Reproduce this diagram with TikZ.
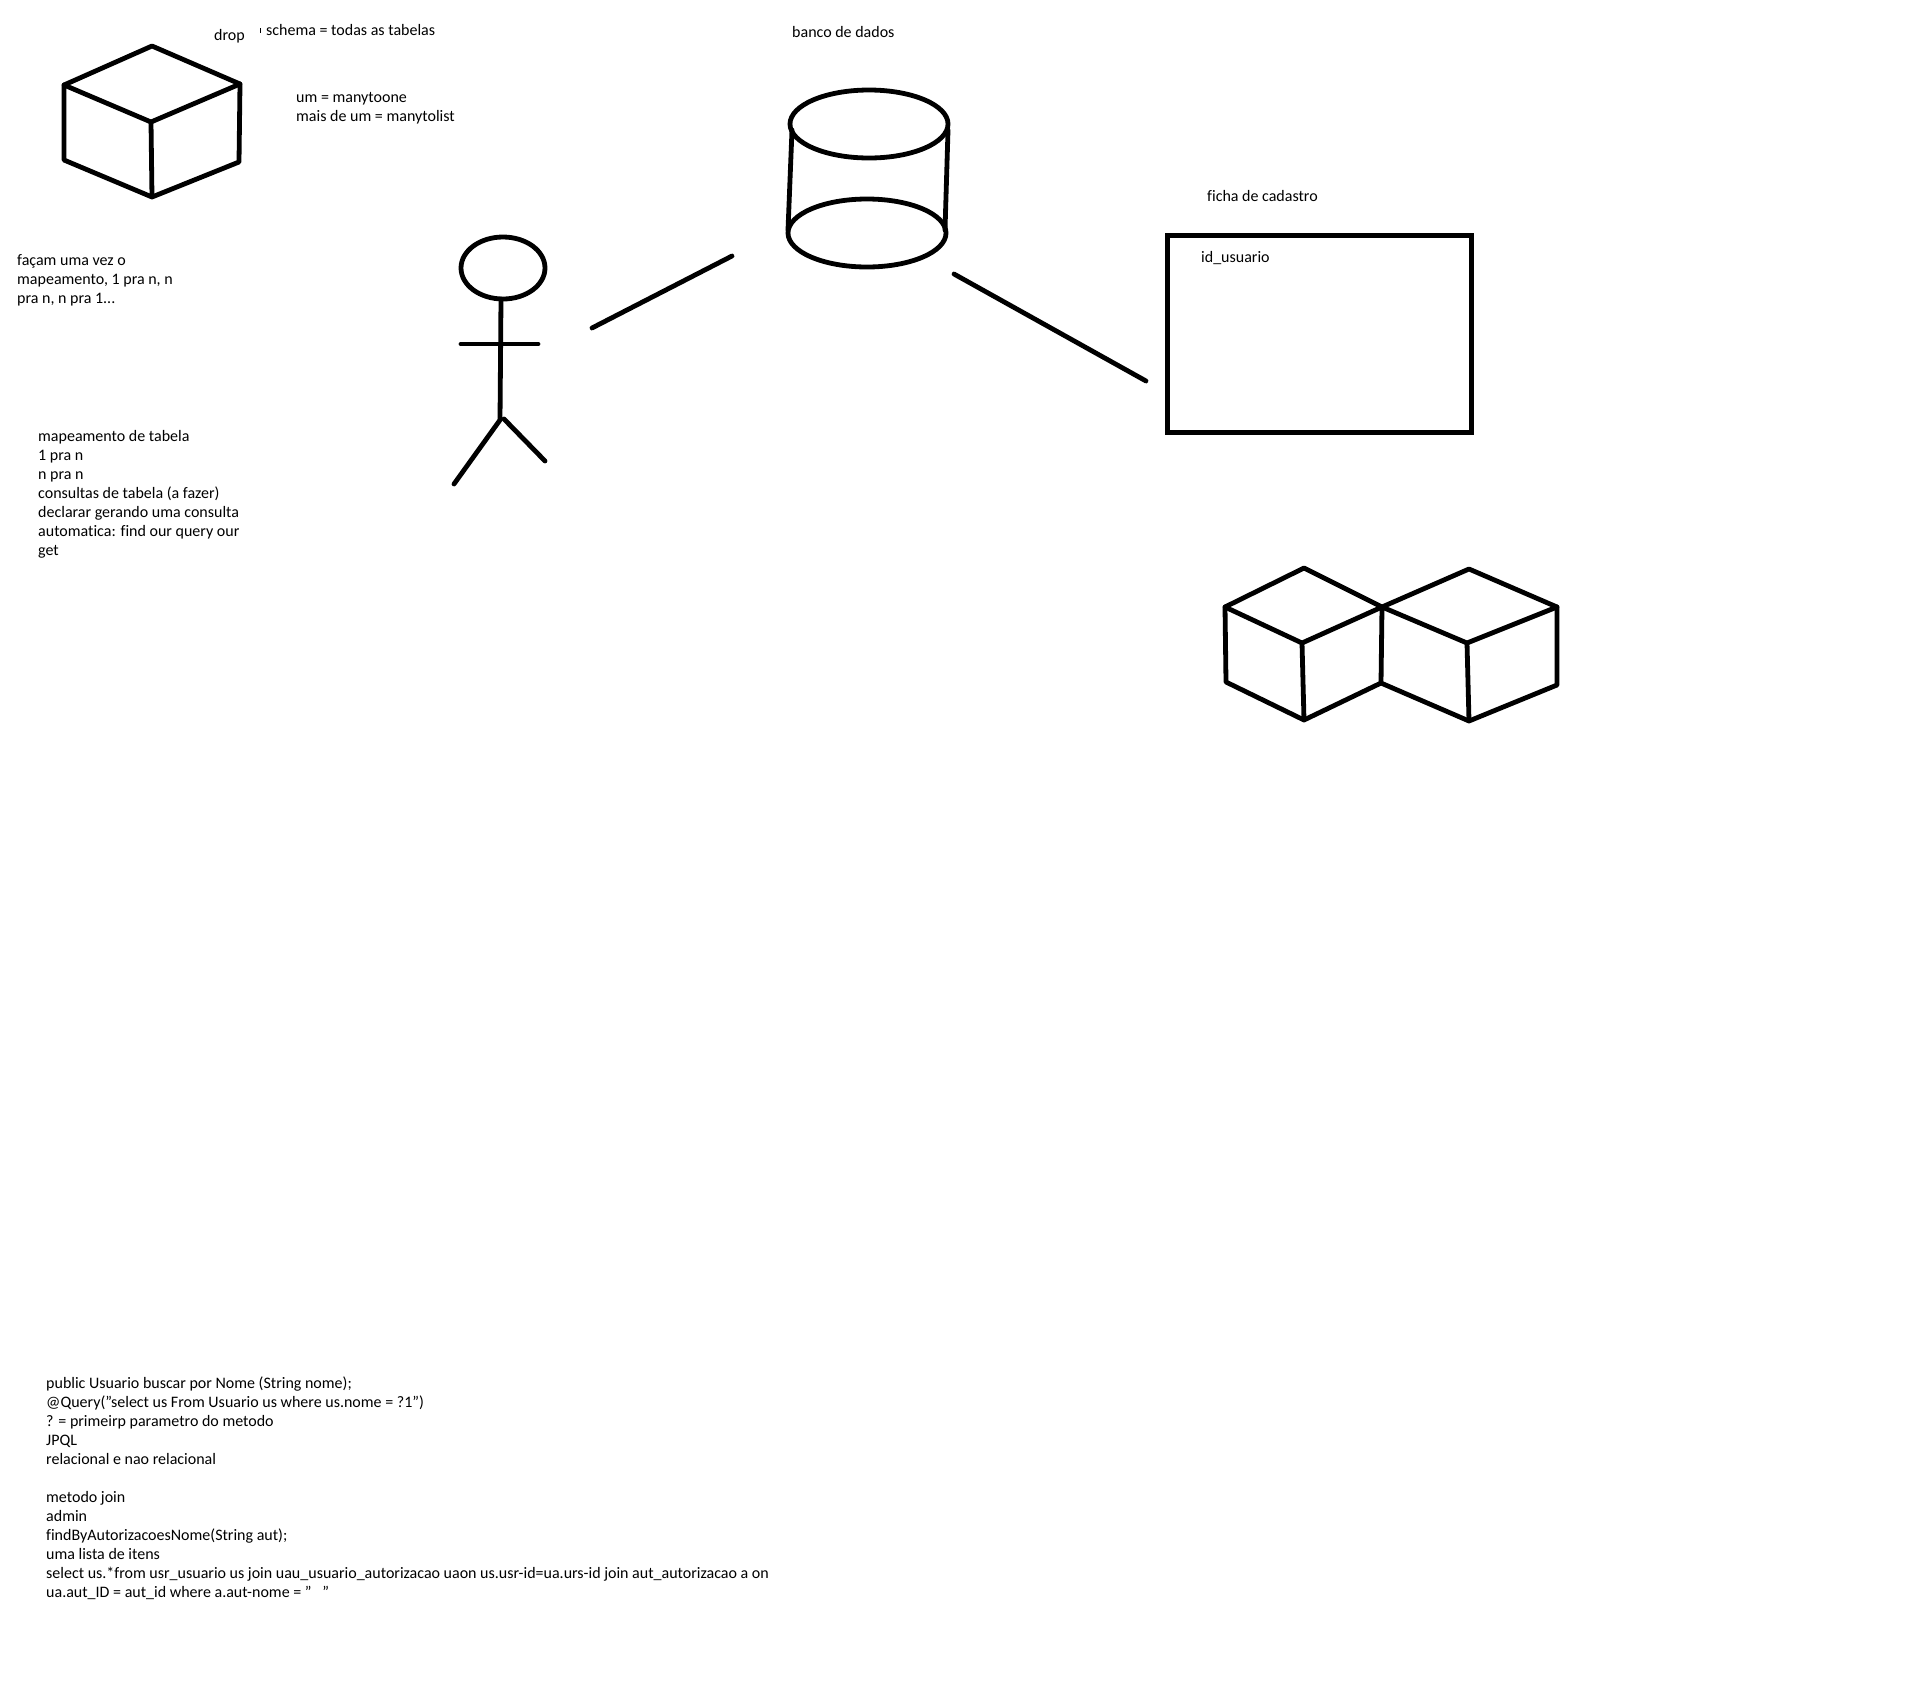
\documentclass[tikz,border=0pt]{standalone}
\usepackage{fontspec}
\setmainfont[Ligatures=NoCommon]{Carlito}
\tikzset{
	sketch/.style={line width=4.8pt, line cap=round, line join=round},
	note/.style={anchor=north west, inner sep=0pt, align=left, font=\fontsize{16}{19}\selectfont}
}

\begin{document}
\begin{tikzpicture}[x=1pt,y=-1pt]
	\useasboundingbox (0,0) rectangle (1914,1695);
	% cube, top left
	\coordinate (cubeAtop) at (152,46);
	\coordinate (cubeAleft) at (64,85);
	\coordinate (cubeAright) at (240,84);
	\coordinate (cubeAmid) at (151,122);
	\coordinate (cubeAlow) at (152,197);
	\coordinate (cubeAlowleft) at (64,160);
	\coordinate (cubeAlowright) at (239,162);
	\draw[sketch] (cubeAtop) -- (cubeAleft) -- (cubeAmid) -- (cubeAright) -- cycle;
	\draw[sketch] (cubeAleft) -- (cubeAlowleft) -- (cubeAlow) -- (cubeAlowright) -- (cubeAright);
	\draw[sketch] (cubeAmid) -- (cubeAlow);
	% stick figure
	\draw[sketch] (503,268) ellipse (42 and 31);
	\coordinate (neck) at (501,299);
	\coordinate (hip) at (500,420);
	\coordinate (handleft) at (461,344);
	\coordinate (handright) at (538,344);
	\coordinate (footleft) at (454,484);
	\coordinate (hipright) at (504,419);
	\coordinate (footright) at (545,461);
	\draw[sketch] (neck) -- (hip) -- (footleft);
	\draw[sketch] (hipright) -- (footright);
	\draw[sketch] (handleft) -- (handright);
	% database
	\draw[sketch] (869,124) ellipse (79 and 34);
	\draw[sketch] (867,233) ellipse (79 and 34);
	\coordinate (dbtopleft) at (792,130);
	\coordinate (dbtopright) at (948,130);
	\coordinate (dblowleft) at (788,230);
	\coordinate (dblowright) at (945,230);
	\draw[sketch] (dbtopleft) -- (dblowleft);
	\draw[sketch] (dbtopright) -- (dblowright);
	% the two loose lines
	\coordinate (linkAstart) at (592,328);
	\coordinate (linkAend) at (732,256);
	\coordinate (linkBstart) at (954,274);
	\coordinate (linkBend) at (1146,381);
	\draw[sketch] (linkAstart) -- (linkAend);
	\draw[sketch] (linkBstart) -- (linkBend);
	% form
	\draw[line width=5pt] (1167,235) rectangle (1471,432);
	% pair of cubes
	\coordinate (cubeBtop) at (1304,568);
	\coordinate (cubeBleft) at (1225,607);
	\coordinate (shared) at (1382,607);
	\coordinate (cubeBmid) at (1302,643);
	\coordinate (cubeBlow) at (1304,720);
	\coordinate (cubeBlowleft) at (1226,682);
	\coordinate (sharedlow) at (1381,683);
	\coordinate (cubeCtop) at (1469,569);
	\coordinate (cubeCright) at (1557,607);
	\coordinate (cubeCmid) at (1467,643);
	\coordinate (cubeClow) at (1469,721);
	\coordinate (cubeClowright) at (1557,685);
	\draw[sketch] (cubeBtop) -- (cubeBleft) -- (cubeBmid) -- (shared) -- cycle;
	\draw[sketch] (cubeBleft) -- (cubeBlowleft) -- (cubeBlow) -- (sharedlow) -- (shared);
	\draw[sketch] (cubeBmid) -- (cubeBlow);
	\draw[sketch] (cubeCtop) -- (shared) -- (cubeCmid) -- (cubeCright) -- cycle;
	\draw[sketch] (sharedlow) -- (cubeClow) -- (cubeClowright) -- (cubeCright);
	\draw[sketch] (cubeCmid) -- (cubeClow);
	% notes
	\node[note] (drop) at (214,29) {drop};
	\node[note] (schema) at (266,24) {schema = todas as tabelas};
	\draw[line width=0.8pt] (260,28) -- (260,33);
	\node[note] (many) at (296,92) {um = manytoone\\mais de um = manytolist};
	\node[note] (banco) at (792,26) {banco de dados};
	\node[note] (ficha) at (1207,190) {ficha de cadastro};
	\node[note] (idusuario) at (1201,251) {id\_usuario};
	\node[note] (facam) at (17,254) {façam uma vez o\\mapeamento, 1 pra n, n\\pra n, n pra 1...};
	\node[note] (mapa) at (38,430) {mapeamento de tabela\\1 pra n\\n pra n\\consultas de tabela (a fazer)\\declarar gerando uma consulta\\automatica: find our query our\\get};
	\node[note] (query) at (46,1377) {public Usuario buscar por Nome (String nome);\\@Query("select us From Usuario us where us.nome = ?1")\\? = primeirp parametro do metodo\\JPQL\\relacional e nao relacional\\[19pt]metodo join\\admin\\findByAutorizacoesNome(String aut);\\uma lista de itens\\select us.*from usr\_usuario us join uau\_usuario\_autorizacao uaon us.usr-id=ua.urs-id join aut\_autorizacao a on\\ua.aut\_ID = aut\_id where a.aut-nome = "\ \ \ "};
\end{tikzpicture}
\end{document}
